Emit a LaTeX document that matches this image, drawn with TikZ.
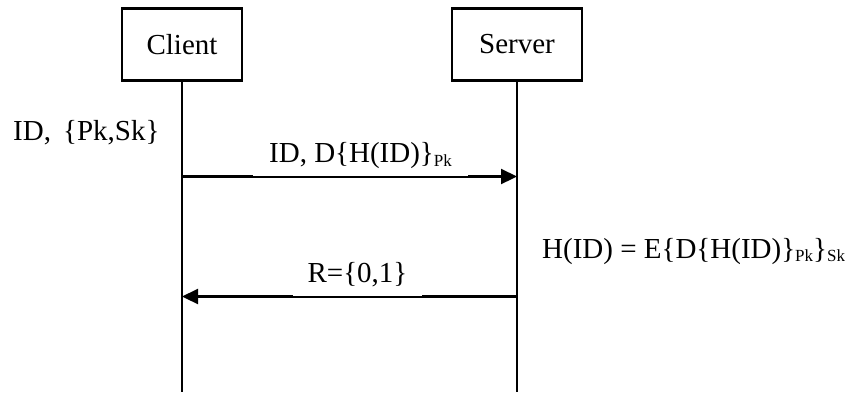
\documentclass[tikz,border=0pt]{standalone}
\usepackage{fontspec}
\setmainfont{Liberation Serif}
\usetikzlibrary{arrows.meta}

% subscript set smaller and lowered, as in D{H(ID)}_Pk
\newcommand{\lowsub}[1]{\raisebox{-3.5pt}{\fontsize{17}{17}\selectfont #1}}

\begin{document}
\begin{tikzpicture}[x=1pt, y=-1pt,
  actor/.style={draw, line width=2.8pt, minimum height=72pt, inner sep=0pt,
                font=\fontsize{29}{33}\selectfont},
  life/.style={line width=2.8pt},
  msg/.style={line width=2.2pt, -{Triangle[length=16pt,width=15pt]}},
  txt/.style={font=\fontsize{29}{33}\selectfont, inner sep=0pt},
  cover/.style={txt, fill=white, inner ysep=0pt, anchor=south}
]
\useasboundingbox (0,0) rectangle (850,392);

% participants
\node[actor, minimum width=120pt] (client) at (182,44.5) {Client};
\node[actor, minimum width=130pt] (server) at (517,44.5) {Server};

% lifelines
\coordinate (cend) at (182,392);
\coordinate (send) at (517,392);
\draw[life] (client.south) -- (cend);
\draw[life] (server.south) -- (send);

% client knowledge
\node[txt, anchor=base west] (keys) at (13,140) {ID, \,\{Pk,Sk\}};

% request
\coordinate (c1) at (182,176.5);
\coordinate (s1) at (517,176.5);
\draw[msg] (c1) -- (s1);
\node[cover, minimum width=215pt, text depth=13.5pt] (m1) at (360.5,176.5)
  {ID, D\{H(ID)\}\lowsub{Pk}};

% server check
\node[txt, anchor=base west] (check) at (542,258)
  {H(ID) = E\{D\{H(ID)\}\lowsub{Pk}\}\lowsub{Sk}};

% response
\coordinate (s2) at (517,296.5);
\coordinate (c2) at (182,296.5);
\draw[msg] (s2) -- (c2);
\node[cover, minimum width=129pt, text depth=13.5pt] (m2) at (357.5,296.5)
  {R=\{0,1\}};
\end{tikzpicture}
\end{document}
